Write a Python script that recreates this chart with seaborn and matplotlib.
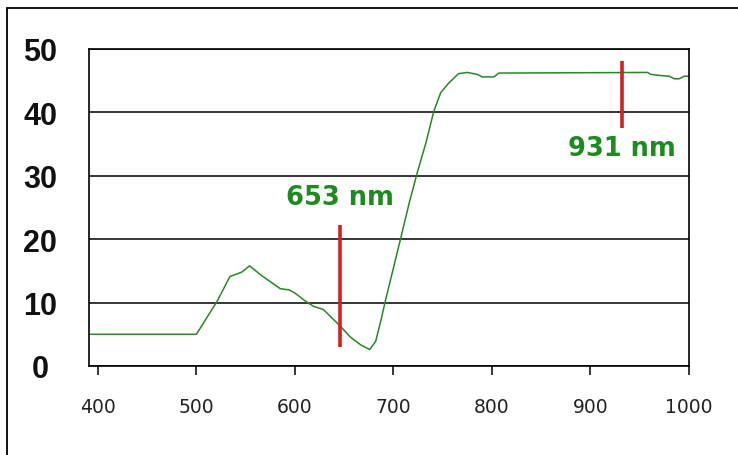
import matplotlib
matplotlib.use("Agg")
import matplotlib.pyplot as plt
import matplotlib.patches as patches
import seaborn as sns

# Curva de reflectancia (nm, %)
wavelength = [391, 500, 521, 534, 546, 554, 565, 575, 585, 594, 600, 611, 619,
              629, 638, 646, 656, 667, 676, 682, 687, 692, 707, 716, 724, 733,
              741, 748, 756, 766, 775, 785, 790, 802, 807, 958, 961, 972, 980,
              985, 990, 995, 1000]
values = [5, 5, 10.2, 14.1, 14.8, 15.8, 14.4, 13.3, 12.2, 12.0, 11.5, 10.2, 9.4,
          8.9, 7.5, 6.3, 4.6, 3.3, 2.6, 3.9, 7.0, 10.4, 19.9, 25.7, 30.4, 35.2,
          40.2, 43.1, 44.6, 46.1, 46.3, 46.0, 45.6, 45.6, 46.2, 46.3, 46.0, 45.8,
          45.7, 45.3, 45.3, 45.7, 45.7]

# Marcadores rojos y sus etiquetas
marker_x = [646, 932]
marker_lo = [3.0, 37.5]
marker_hi = [22.3, 48.1]
marker_labels = ["653 nm", "931 nm"]
label_y = [26.7, 34.4]

x_ticks = [400, 500, 600, 700, 800, 900, 1000]
y_ticks = [0, 10, 20, 30, 40, 50]

sns.set_style("white")

fig = plt.figure(figsize=(7.38, 4.56), dpi=100)
ax = fig.add_axes([0.1206, 0.1952, 0.813, 0.6952])

green = "#2a862a"
sns.lineplot(x=wavelength, y=values, color=green, linewidth=1.1, ax=ax)

ax.vlines(marker_x, marker_lo, marker_hi, color="#d42020", linewidth=2.6, zorder=4)
for mx, my, txt in zip(marker_x, label_y, marker_labels):
    ax.text(mx, my, txt, color="#1f8a1f", fontsize=18.5, fontweight="bold",
            family="DejaVu Sans", ha="center", va="center")

ax.set_xlim(391, 1000)
ax.set_ylim(0, 50)
ax.set_xticks(x_ticks)
ax.set_yticks(y_ticks)
ax.set_xticklabels([str(t) for t in x_ticks], family="DejaVu Sans",
                   fontsize=13.5, color="#222222")
ax.set_yticklabels([str(t) for t in y_ticks], family="Liberation Sans",
                   fontsize=22, fontweight="bold", color="#111111",
                   ha="center")

ax.grid(axis="y", color="black", linewidth=1.1)
ax.grid(axis="x", visible=False)
ax.set_axisbelow(True)

for s in ax.spines.values():
    s.set_color("black")
    s.set_linewidth(1.2)

ax.tick_params(axis="x", bottom=True, length=6.5, width=1.1, color="black",
               direction="out", pad=16)
ax.tick_params(axis="y", left=False, length=0, pad=35)

# Marco exterior de la figura
fig.patches.append(patches.Rectangle((7 / 738, -0.2), 1.3, 0.98 + 0.2,
                                     transform=fig.transFigure, fill=False,
                                     edgecolor="black", linewidth=1.3))

fig.savefig("out.png", dpi=100)
